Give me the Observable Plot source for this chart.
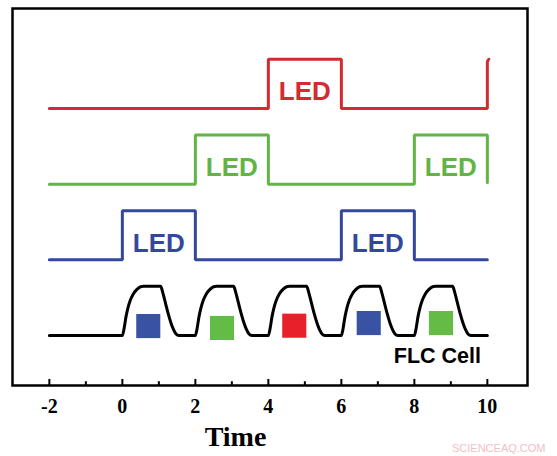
<!DOCTYPE html>
<html>
<head>
<meta charset="utf-8">
<script src="https://cdn.jsdelivr.net/npm/d3@7"></script>
<script src="https://cdn.jsdelivr.net/npm/@observablehq/plot@0.6"></script>
<style>
  html, body { margin: 0; padding: 0; background: #fff; }
  #chart svg { display: block; }
</style>
</head>
<body>
<div id="chart"></div>
<script>
// ---- data ----
// LED drive signals (time, level) — row baselines: red 3, green 2, blue 1
const redX   = [-2, 4, 4, 6, 6, 10, 10, 10.04];
const redY   = [3, 3, 3.65, 3.65, 3, 3, 3.62, 3.65];
const greenX = [-2, 2, 2, 4, 4, 8, 8, 10, 10];
const greenY = [2, 2, 2.65, 2.65, 2, 2, 2.65, 2.65, 2.02];
const blueX  = [-2, 0, 0, 2, 2, 6, 6, 8, 8, 10];
const blueY  = [1, 1, 1.65, 1.65, 1, 1, 1.65, 1.65, 1, 1];

// FLC cell optical response: one switching cycle
const pulseDt = [0, 0.05, 0.1, 0.15, 0.22, 0.3, 0.4, 0.5, 0.58, 1.05, 1.1, 1.17, 1.25, 1.33, 1.4, 1.47, 1.55];
const pulseY  = [0, 0.1, 0.25, 0.36, 0.47, 0.55, 0.61, 0.645, 0.65, 0.65, 0.58, 0.45, 0.3, 0.17, 0.08, 0.02, 0];
const cycleStarts = [0, 2, 4, 6, 8];
const flcStart = [-2, 0];
const flcEnd = [10, 0];

// coloured squares (sub-frame colour shown)
const squareX = [0.71, 2.73, 4.71, 6.75, 8.73];
const squareY = [0.125, 0.1, 0.13, 0.165, 0.165];
const squareColor = ["#3a52a3", "#64bb46", "#e8202a", "#3a52a3", "#64bb46"];

// LED labels
const ledLabelX = [5, 3, 9, 1, 7];
const ledLabelRow = [3, 2, 2, 1, 1];
const ledLabelColor = ["#d42a31", "#62b447", "#62b447", "#34489b", "#34489b"];

const majorTicks = [-2, 0, 2, 4, 6, 8, 10];
const minorTicks = [-1, 1, 3, 5, 7, 9];
const tickLabels = ["-2", "0", "2", "4", "6", "8", "10"];

const xDomain = [-3.01, 11.1];
const yDomain = [-0.66, 4.32];

// ---- build tables ----
const toPts = (xs, ys) => xs.map((x, i) => ({x, y: ys[i]}));
const flc = [{x: flcStart[0], y: flcStart[1]}];
cycleStarts.forEach(s => pulseDt.forEach((d, i) => flc.push({x: s + d, y: pulseY[i]})));
flc.push({x: flcEnd[0], y: flcEnd[1]});

const squares = squareX.map((x, i) => ({x, y: squareY[i], c: squareColor[i]}));
const labels = ledLabelX.map((x, i) => ({x, y: ledLabelRow[i] + 0.22, c: ledLabelColor[i]}));
const ticks = majorTicks.map((t, i) => ({x: t, label: tickLabels[i]}));

const sans = "'Liberation Sans', Arial, Helvetica, sans-serif";
const serif = "'Liberation Serif', 'Times New Roman', Times, serif";

const chart = Plot.plot({
  width: 557,
  height: 456,
  marginLeft: 12,
  marginRight: 30,
  marginTop: 8,
  marginBottom: 71,
  x: {domain: xDomain, axis: null},
  y: {domain: yDomain, axis: null},
  marks: [
    Plot.line(toPts(redX, redY), {x: "x", y: "y", stroke: "#d42a31", strokeWidth: 3, strokeLinejoin: "miter"}),
    Plot.line(toPts(greenX, greenY), {x: "x", y: "y", stroke: "#62b447", strokeWidth: 3, strokeLinejoin: "miter"}),
    Plot.line(toPts(blueX, blueY), {x: "x", y: "y", stroke: "#34489b", strokeWidth: 3, strokeLinejoin: "miter"}),
    Plot.line(flc, {x: "x", y: "y", stroke: "#000", strokeWidth: 3, curve: "monotone-x"}),
    Plot.dot(squares, {x: "x", y: "y", fill: "c", symbol: "square", r: 13.6, stroke: null}),
    Plot.text(labels, {x: "x", y: "y", text: () => "LED", fill: "c", fontSize: 26, fontWeight: "bold", fontFamily: sans, lineAnchor: "middle"}),
    Plot.text(["FLC Cell"], {x: 8.63, y: -0.27, text: d => d, fill: "#000", fontSize: 21.5, fontWeight: "bold", fontFamily: sans, lineAnchor: "middle"}),
    Plot.frame({stroke: "#000", strokeWidth: 2.5}),
    Plot.ruleX(majorTicks, {x: d => d, y1: yDomain[0], y2: yDomain[0] + 0.08, stroke: "#000", strokeWidth: 2}),
    Plot.ruleX(minorTicks, {x: d => d, y1: yDomain[0], y2: yDomain[0] + 0.05, stroke: "#000", strokeWidth: 2}),
    Plot.text(ticks, {x: "x", text: "label", frameAnchor: "bottom", dy: 21, lineAnchor: "middle", fontSize: 20, fontWeight: "bold", fontFamily: serif, fill: "#000"}),
    Plot.text(["Time"], {x: 3.1, text: d => d, frameAnchor: "bottom", dy: 52, lineAnchor: "middle", fontSize: 28, fontWeight: "bold", fontFamily: serif, fill: "#000"}),
    Plot.text(["SCIENCEAQ.COM"], {text: d => d, frameAnchor: "bottom-right", dx: 18, dy: 63, textAnchor: "end", lineAnchor: "middle", fontSize: 11, fontFamily: sans, fill: "#f0c0c4"})
  ]
});
document.getElementById("chart").appendChild(chart);
</script>
</body>
</html>
